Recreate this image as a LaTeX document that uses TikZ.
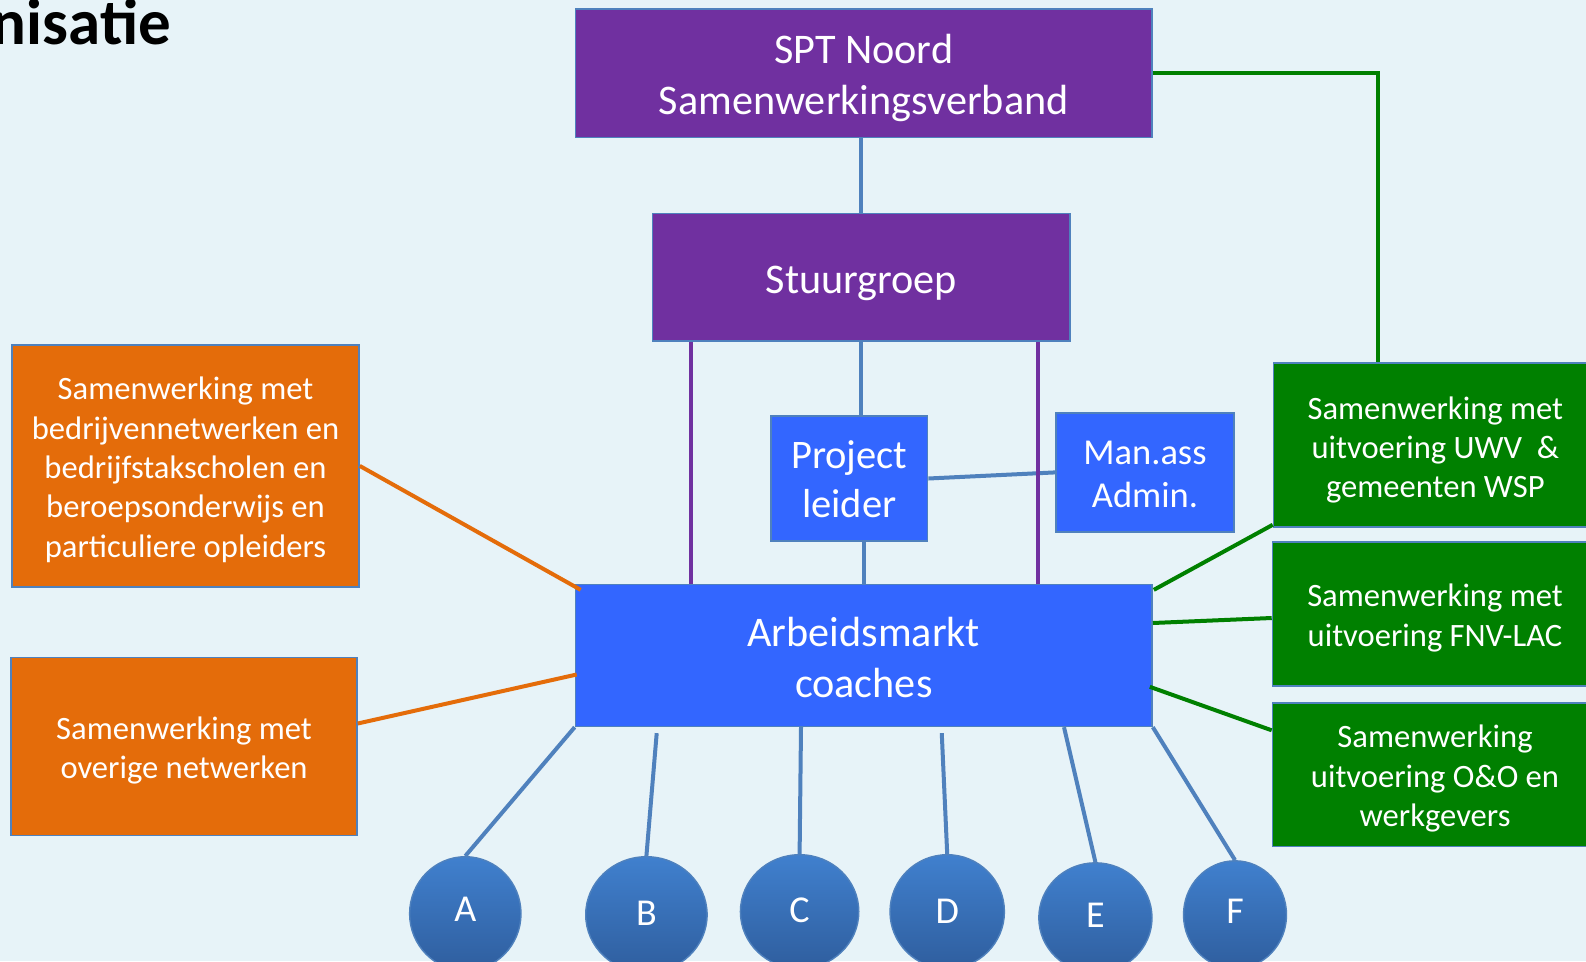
\documentclass[tikz,border=0pt]{standalone}
\usepackage{fontspec}
\setmainfont{Carlito}
\usetikzlibrary{shapes.geometric}
\definecolor{bg}{RGB}{231,243,248}
\definecolor{pur}{RGB}{112,48,160}
\definecolor{bbox}{RGB}{51,102,255}
\definecolor{edge}{RGB}{79,129,189}
\definecolor{org}{RGB}{228,108,10}
\definecolor{grn}{RGB}{0,128,0}
\definecolor{ctop}{RGB}{64,128,206}
\definecolor{cbot}{RGB}{47,94,158}
\begin{document}
\begin{tikzpicture}[x=1pt,y=-1pt,
  boxbase/.style={draw=edge, line width=1.6pt, inner sep=0pt},
  purbox/.style={boxbase, fill=pur},
  bluebox/.style={boxbase, fill=bbox},
  orgbox/.style={boxbase, fill=org},
  grnbox/.style={boxbase, fill=grn},
  txt/.style={inner sep=0pt, align=center, text=white},
  bigtxt/.style={txt, font=\fontsize{42.2}{51.6}\selectfont},
  smalltxt/.style={txt, font=\fontsize{32.6}{39.4}\selectfont},
  circ/.style={ellipse, draw=edge, line width=1.4pt, top color=ctop, bottom color=cbot, inner sep=0pt, text=white, font=\fontsize{38}{40}\selectfont},
  lnblue/.style={draw=edge, line width=4pt},
  lnpur/.style={draw=pur, line width=4pt},
  lnorg/.style={draw=org, line width=4pt},
  lngrn/.style={draw=grn, line width=4pt}]
\useasboundingbox (0,0) rectangle (1586,961);
\clip (0,0) rectangle (1586,961);
\fill[bg] (0,0) rectangle (1586,961);

\node[anchor=base east, inner sep=0pt, font=\fontsize{65}{65}\selectfont\bfseries, text=black] (title) at (171,44) {nisatie};

% boxes
\node[purbox, minimum width=576.5pt, minimum height=128.6pt] (spt) at (863.75,73.3) {};
\node[purbox, minimum width=417.8pt, minimum height=127.5pt] (stuur) at (861.3,277.2) {};
\node[bluebox, minimum width=156.7pt, minimum height=125.5pt] (proj) at (849.2,478.5) {};
\node[bluebox, minimum width=178pt, minimum height=119.3pt] (man) at (1145,472.4) {};
\node[bluebox, minimum width=576.5pt, minimum height=141.7pt] (arb) at (863.75,655.5) {};
\node[orgbox, minimum width=346.9pt, minimum height=241.7pt] (or1) at (185.5,465.9) {};
\node[orgbox, minimum width=345.9pt, minimum height=178pt] (or2) at (184,746.5) {};
\node[grnbox, minimum width=323.6pt, minimum height=164pt] (g1) at (1435.3,445) {};
\node[grnbox, minimum width=325pt, minimum height=143.8pt] (g2) at (1435,614) {};
\node[grnbox, minimum width=325pt, minimum height=143.6pt] (g3) at (1435,774.8) {};

% box texts
\node[bigtxt] (sptT) at ([yshift=-4.6pt]spt.center) {SPT Noord\\Samenwerkingsverband};
\node[bigtxt] (stuurT) at ([yshift=-6pt]stuur.center) {Stuurgroep};
\node[txt, font=\fontsize{40.5}{49}\selectfont] (projT) at ([yshift=-1pt]proj.center) {Project\\leider};
\node[txt, font=\fontsize{36.5}{43.5}\selectfont] (manT) at ([yshift=-2pt]man.center) {Man.ass\\Admin.};
\node[bigtxt, font=\fontsize{42.2}{50.5}\selectfont] (arbT) at ([yshift=-2pt]arb.center) {Arbeidsmarkt\\coaches};
\node[smalltxt] (or1T) at ([yshift=-4pt]or1.center) {Samenwerking met\\bedrijvennetwerken en\\bedrijfstakscholen en\\beroepsonderwijs en\\particuliere opleiders};
\node[smalltxt] (or2T) at ([yshift=-4pt]or2.center) {Samenwerking met\\overige netwerken};
\node[smalltxt] (g1T) at ([yshift=-5pt]g1.center) {Samenwerking met\\uitvoering UWV\ \ \&\\gemeenten WSP};
\node[smalltxt] (g2T) at ([yshift=-4pt]g2.center) {Samenwerking met\\uitvoering FNV-LAC};
\node[smalltxt] (g3T) at ([yshift=-4pt]g3.center) {Samenwerking\\uitvoering O\&O en\\werkgevers};

% circles
\node[circ, minimum width=111.4pt, minimum height=114pt, text depth=8pt] (cA) at (465.3,913.7) {A};
\node[circ, minimum width=121.4pt, minimum height=116pt, text depth=2pt] (cB) at (646.4,914.7) {B};
\node[circ, minimum width=118.4pt, minimum height=114pt, text depth=4pt] (cC) at (799.6,911.7) {C};
\node[circ, minimum width=114.4pt, minimum height=114pt] (cD) at (947.2,911.7) {D};
\node[circ, minimum width=113.2pt, minimum height=110pt, text depth=6pt] (cE) at (1095.4,917.8) {E};
\node[circ, minimum width=103pt, minimum height=108pt, text depth=8pt] (cF) at (1235,914.8) {F};

% connectors
\draw[lnblue] (stuur.north |- spt.south) -- (stuur.north);
\draw[lnblue] (stuur.south) -- (stuur.south |- proj.north);
\draw[lnblue] (arb.north) -- (arb.north |- proj.south);
\draw[lnblue] (proj.east) -- (man.west);
\draw[lnpur] ([xshift=-170.5pt]stuur.south) -- ([xshift=-170.5pt]stuur.south |- arb.north);
\draw[lnpur] ([xshift=176.5pt]stuur.south) -- ([xshift=176.5pt]stuur.south |- arb.north);

\draw[lnorg] (or1.east) -- ([shift={(6pt,-6pt)}]arb.north west);
\draw[lnorg] ([yshift=23pt]or2.east) -- ([shift={(2pt,-19pt)}]arb.west);

\draw[lngrn] (spt.east) -| ([xshift=-57.6pt]g1.north);
\draw[lngrn] ([shift={(1pt,-6pt)}]arb.north east) -- ([yshift=3pt]g1.south west);
\draw[lngrn] ([yshift=32.5pt]arb.east) -- ([yshift=-4pt]g2.west);
\draw[lngrn] ([shift={(-3pt,-31.3pt)}]arb.east) -- ([yshift=44.5pt]g3.west);

\draw[lnblue] (arb.south west) -- (cA.north);
\draw[lnblue] ([shift={(82pt,-6pt)}]arb.south west) -- (cB.north);
\draw[lnblue] ([xshift=-62.75pt]arb.south) -- (cC.north);
\draw[lnblue] ([shift={(78pt,-6pt)}]arb.south) -- (cD.north);
\draw[lnblue] ([xshift=200.25pt]arb.south) -- (cE.north);
\draw[lnblue] (arb.south east) -- (cF.north);
\end{tikzpicture}
\end{document}
